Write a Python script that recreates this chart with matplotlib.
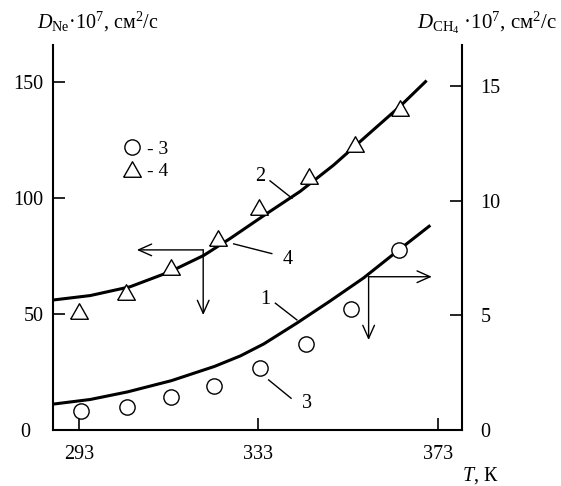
import matplotlib
matplotlib.use("Agg")
import matplotlib.pyplot as plt

plt.rcParams['font.family'] = ['Liberation Serif', 'DejaVu Serif']
plt.rcParams['mathtext.fontset'] = 'custom'
plt.rcParams['mathtext.rm'] = 'Liberation Serif'
plt.rcParams['mathtext.it'] = 'Liberation Serif:italic'

# ---- data ----
# curve 2: D_Ne (left axis)
ne_curve_T = [287.3, 295.5, 304.4, 313.3, 320.8, 326.7, 334.9, 342.3, 349.8, 357.2, 364.7, 370.3]
ne_curve = [56.1, 58.0, 61.8, 68.3, 75.3, 82.6, 93.4, 102.9, 114.3, 127.0, 139.8, 150.3]
# curve 1: D_CH4 (right axis)
ch4_curve_T = [287.3, 295.5, 303.8, 313.6, 323.2, 329.0, 334.2, 341.6, 349.0, 356.5, 363.9, 371.1]
ch4_curve = [1.13, 1.33, 1.66, 2.15, 2.77, 3.23, 3.75, 4.66, 5.62, 6.63, 7.78, 8.88]
# points 4 (triangles, Ne, left axis)
ne_pts_T = [293.1, 303.5, 313.5, 324.1, 333.2, 344.4, 354.6, 364.7]
ne_pts = [51.3, 59.4, 70.4, 83.0, 96.0, 109.7, 123.2, 139.0]
# points 3 (circles, CH4, right axis)
ch4_pts_T = [293.4, 303.8, 313.5, 323.2, 333.4, 343.7, 353.6, 364.3]
ch4_pts = [0.83, 1.015, 1.42, 1.92, 2.69, 3.75, 5.26, 7.84]

x_ticks = [293, 333, 373]
left_ticks = [0, 50, 100, 150]
right_ticks = [0, 5, 10, 15]

# annotation geometry (label, text pos, leader start, leader end) in left-axis units
labels = ["2", "4", "1", "3"]
label_pos = [(333.4, 109.3), (339.5, 73.6), (334.5, 56.1), (343.8, 11.5)]
leader_a = [(335.6, 107.5), (327.5, 80.3), (336.8, 54.7), (335.3, 21.6)]
leader_b = [(340.5, 100.0), (336.0, 76.1), (341.6, 47.5), (340.3, 13.7)]
# arrows: Ne arrows (left axis), CH4 arrows (right axis)
ne_arrow_corner = (320.7, 77.7)
ne_arrow_ends = [(305.9, 77.7), (320.7, 49.6)]
ch4_arrow_corner = (357.6, 6.68)
ch4_arrow_ends = [(371.7, 6.68), (357.6, 3.92)]

W, H = 561, 486
fig = plt.figure(figsize=(W / 100, H / 100), dpi=100)
L, R, B, T = 53.3, 462.3, 430.0, 45.0
ax = fig.add_axes([L / W, (H - B) / H, (R - L) / W, (B - T) / H])
ax2 = ax.twinx()

ax.set_xlim(287.26, 378.5)
ax.set_ylim(0, 166.1)
ax2.set_ylim(0, 16.78)

for s in ['top', 'right']:
    ax.spines[s].set_visible(False)
for s in ['top', 'left', 'bottom']:
    ax2.spines[s].set_visible(False)
for s in ['left', 'bottom']:
    ax.spines[s].set_linewidth(1.5)
ax2.spines['right'].set_linewidth(1.5)

lw_curve = 2.2
ax.plot(ne_curve_T, ne_curve, color='black', lw=lw_curve, zorder=2, solid_joinstyle='round')
ax2.plot(ch4_curve_T, ch4_curve, color='black', lw=lw_curve, zorder=2, solid_joinstyle='round')

tri = [(-1, -0.88), (1, -0.88), (0, 0.88), (-1, -0.88)]
h_tri, = ax.plot(ne_pts_T, ne_pts, linestyle='none', marker=tri, markersize=12.7,
                 markerfacecolor='white', markeredgecolor='black', markeredgewidth=1.0, zorder=3)
h_circ, = ax2.plot(ch4_pts_T, ch4_pts, linestyle='none', marker='o', markersize=11,
                   markerfacecolor='white', markeredgecolor='black', markeredgewidth=1.0, zorder=3)

fs = 14.5
ax.set_xticks(x_ticks)
ax.set_xticklabels([str(t) for t in x_ticks])
ax.set_yticks(left_ticks)
ax.set_yticklabels([str(t) for t in left_ticks])
ax2.set_yticks(right_ticks)
ax2.set_yticklabels([str(t) for t in right_ticks])

ax.tick_params(axis='x', direction='in', length=8.3, width=1.2, pad=10.5, labelsize=fs, top=False)
ax.tick_params(axis='y', direction='in', length=8.3, width=1.2, pad=7.2, labelsize=fs, right=False)
ax2.tick_params(axis='y', direction='in', length=8.3, width=1.2, pad=13.0, labelsize=fs)
ax.yaxis.get_major_ticks()[0].set_pad(16.3)

# leaders and labels
for lab, p, a, b in zip(labels, label_pos, leader_a, leader_b):
    ax.plot([a[0], b[0]], [a[1], b[1]], color='black', lw=1.0)
    ax.text(p[0], p[1], lab, fontsize=fs, ha='center', va='center')

arrow_style = dict(arrowstyle='->,head_length=0.94,head_width=0.42', mutation_scale=10,
                   lw=1.0, color='black', shrinkA=0, shrinkB=0)
for e in ne_arrow_ends:
    ax.annotate('', xy=e, xytext=ne_arrow_corner, arrowprops=arrow_style)
for e in ch4_arrow_ends:
    ax2.annotate('', xy=e, xytext=ch4_arrow_corner, arrowprops=arrow_style)

leg = ax.legend([h_circ, h_tri], ['- 3', '- 4'], loc='upper left',
                bbox_to_anchor=(0.168, 0.753), frameon=False, fontsize=14,
                handlelength=1.0, handletextpad=0.27, labelspacing=0.23, borderpad=0,
                borderaxespad=0)

fig.text(36.7 / W, (H - 28.3) / H, r"$D_{\mathrm{Ne}}$·10$^7$, см$^2$/с", fontsize=fs,
         ha='left', va='baseline')
fig.text(416.7 / W, (H - 28.3) / H, r"$D_{\mathrm{CH_4}}$ ·10$^7$, см$^2$/с", fontsize=15,
         ha='left', va='baseline')
fig.text(461.7 / W, (H - 481) / H, r"$T$, К", fontsize=fs, ha='left', va='baseline')

fig.savefig('out.png', dpi=100)
